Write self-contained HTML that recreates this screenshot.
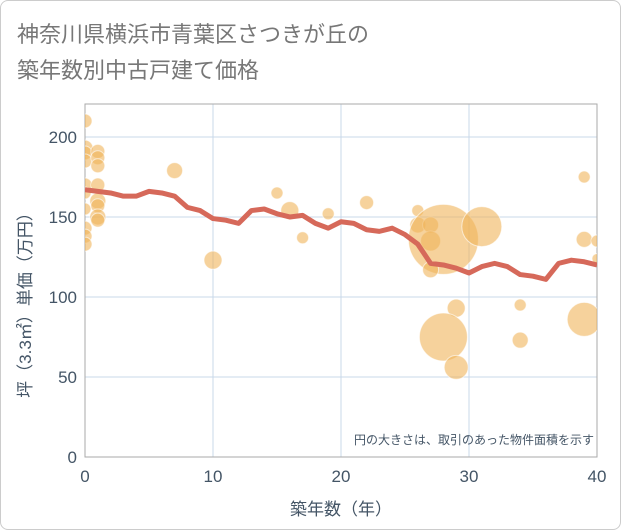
<!DOCTYPE html>
<html><head><meta charset="utf-8"><style>
body{margin:0;background:#fff;}
#card{position:relative;width:619px;height:528px;border:1px solid #ccc;border-radius:8px;background:#fff;overflow:hidden;}
.t{position:absolute;left:16px;font:22px "Liberation Sans","Noto Sans CJK JP",sans-serif;color:#777;}
svg{position:absolute;left:0;top:0;}
</style></head><body>
<div id="card">
<div class="t" style="top:16px">神奈川県横浜市青葉区さつきが丘の</div>
<div class="t" style="top:52px">築年数別中古戸建て価格</div>
<svg id="c" width="621" height="530"></svg>
</div>
<script>
const lineYears=[0,1,2,3,4,5,6,7,8,9,10,11,12,13,14,15,16,17,18,19,20,21,22,23,24,25,26,27,28,29,30,31,32,33,34,35,36,37,38,39,40];
const lineValues=[167,166,165,163,163,166,165,163,156,154,149,148,146,154,155,152,150,151,146,143,147,146,142,141,143,139,133,121,120,118,115,119,121,119,114,113,111,121,123,122,120];
const bubbleYears=[0,0,0,0,0,0,0,0,0,0,1,1,1,1,1,1,1,1,7,10,15,16,17,19,22,26,26,27,27,28,31,27,29,28,29,34,34,39,39,40,40,39];
const bubbleValues=[210,193,190,185,170,165,155,143,138,133,191,187,182,170,160,157,150,148,179,123,165,154,137,152,159,154,145,145,135,136,144,117,93,75,56,95,73,175,136,135,124,86];
const bubbleRadii=[7,8,7,7,7,6,6,7,7,7,7,7,7,7,8,7,8,7,8,9,6,9,6,6,7,6,8,8,10,35,20,8,9,24,12,6,8,6,8,6,5,17];
const xTicks=[0,10,20,30,40];
const yTicks=[0,50,100,150,200];
const L=84,R=596,T=103,B=456;
const xs=v=>L+(v/40)*(R-L);
const ys=v=>B-(v/220.6)*(B-T);
const svg=document.getElementById('c');
const NS='http://www.w3.org/2000/svg';
function mk(tag,a){const e=document.createElementNS(NS,tag);for(const k in a)e.setAttribute(k,a[k]);svg.appendChild(e);return e;}
const F='"Liberation Sans","Noto Sans CJK JP",sans-serif';
const clip=mk('clipPath',{id:'pc'});
const cr=document.createElementNS(NS,'rect');cr.setAttribute('x',L);cr.setAttribute('y',T);cr.setAttribute('width',R-L);cr.setAttribute('height',B-T);clip.appendChild(cr);
xTicks.forEach(v=>{const g=mk('line',{x1:xs(v),x2:xs(v),y1:T,y2:B,stroke:'#c8d8ea','stroke-width':1});

const t=mk('text',{x:xs(v),y:481,'text-anchor':'middle','font-size':17,fill:'#445566','font-family':F});t.textContent=v;
});
yTicks.forEach(v=>{const g=mk('line',{x1:L,x2:R,y1:ys(v),y2:ys(v),stroke:'#c8d8ea','stroke-width':1});

const t=mk('text',{x:76,y:ys(v)+6,'text-anchor':'end','font-size':17,fill:'#445566','font-family':F});t.textContent=v;
});
const fr=mk('rect',{x:L,y:T,width:R-L,height:B-T,fill:'none',stroke:'#aaa','stroke-width':1});

const bg=mk('g',{'clip-path':'url(#pc)'});
bubbleYears.forEach((y,i)=>{const c=document.createElementNS(NS,'circle');
c.setAttribute('cx',xs(y));c.setAttribute('cy',ys(bubbleValues[i]));c.setAttribute('r',bubbleRadii[i]);
c.setAttribute('fill','rgba(240,180,90,0.6)');c.setAttribute('stroke','rgba(255,255,255,0.6)');c.setAttribute('stroke-width','1');


bg.appendChild(c);});
const pl=mk('polyline',{points:lineYears.map((y,i)=>xs(y)+','+ys(lineValues[i])).join(' '),fill:'none',stroke:'#d6695a','stroke-width':5,'stroke-linejoin':'round','clip-path':'url(#pc)'});

const n=mk('text',{x:593,y:443,'text-anchor':'end','font-size':12,fill:'#445566','font-family':F});n.textContent='円の大きさは、取引のあった物件面積を示す';

const xl=mk('text',{x:340,y:514,'text-anchor':'middle','font-size':17,fill:'#445566','font-family':F});xl.textContent='築年数（年）';

const yl=mk('text',{x:0,y:0,'text-anchor':'middle','font-size':17,fill:'#445566','font-family':F,transform:'translate(30,300) rotate(-90)'});yl.textContent='坪（3.3㎡）単価（万円）';

</script>
</body></html>
